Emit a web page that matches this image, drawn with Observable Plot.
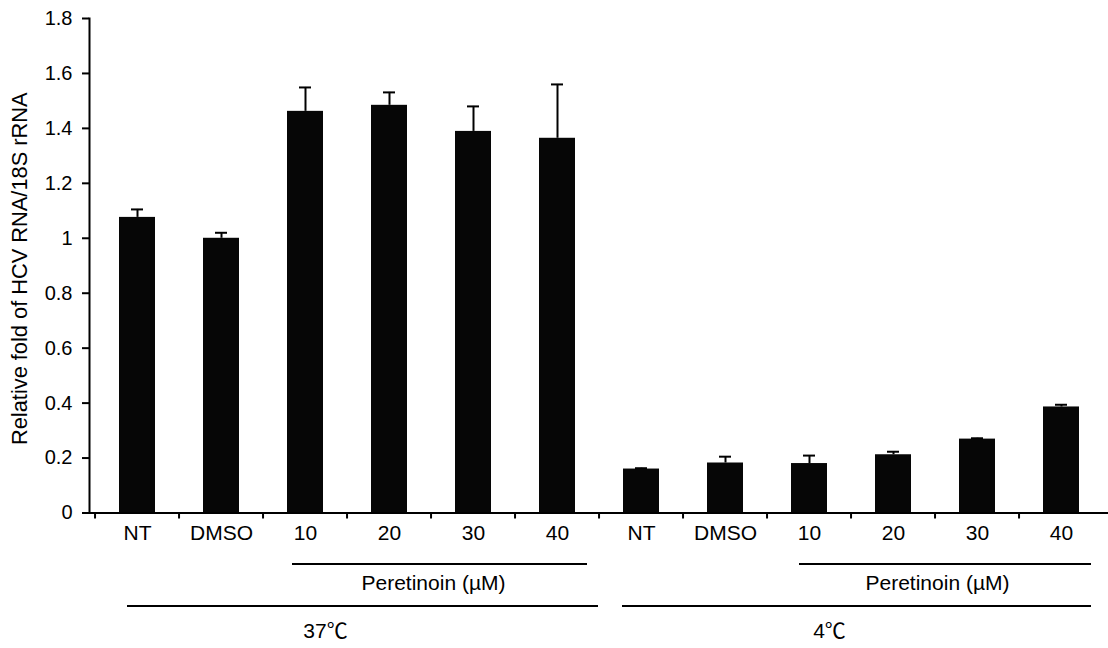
<!DOCTYPE html>
<html><head><meta charset="utf-8">
<script src="https://cdn.jsdelivr.net/npm/d3@7"></script>
<script src="https://cdn.jsdelivr.net/npm/@observablehq/plot@0.6"></script>
<style>body{margin:0;background:#fff}#chart svg{display:block}</style>
</head><body><div id="chart"></div>
<script>
// ---- data ----
const groups = ["37℃", "4℃"];
const treatments = ["NT", "DMSO", "10", "20", "30", "40"];
const values37 = [1.076, 1.0, 1.462, 1.484, 1.389, 1.364];
const errors37 = [0.029, 0.02, 0.087, 0.047, 0.091, 0.196];
const values4 = [0.16, 0.182, 0.18, 0.212, 0.269, 0.386];
const errors4 = [0.003, 0.023, 0.029, 0.011, 0.003, 0.008];
const yTicks = [0, 0.2, 0.4, 0.6, 0.8, 1, 1.2, 1.4, 1.6, 1.8];
const yLabel = "Relative fold of HCV RNA/18S rRNA";
const doseLabel = "Peretinoin (µM)";

const groupValues = [values37, values4];
const groupErrors = [errors37, errors4];
const rows = [];
groups.forEach((g, gi) => treatments.forEach((t, ti) => rows.push({
  key: g + "|" + t, group: g, treatment: t,
  value: groupValues[gi][ti], error: groupErrors[gi][ti]
})));
const keys = rows.map(d => d.key);
const k = (g, t) => g + "|" + t;

const FONT = '"Liberation Sans", Arial, "Noto Sans CJK JP", sans-serif';
const step = (1108 - 89) / keys.length;

const marks = [
  Plot.barY(rows, {x: "key", y: "value", fill: "#060606"}),
  Plot.ruleX(rows, {x: "key", y1: "value", y2: d => d.value + d.error, stroke: "#000", strokeWidth: 2}),
  Plot.tickY(rows, {x: "key", y: d => d.value + d.error, stroke: "#000", strokeWidth: 2, inset: 12}),
  Plot.frame({anchor: "left", stroke: "#000", strokeWidth: 2}),
  Plot.ruleY([0], {stroke: "#000", strokeWidth: 2}),
  Plot.axisY({ticks: yTicks, tickSize: 7, tickPadding: 10, tickFormat: d => String(d), fontSize: 20, label: null, stroke: "#000", strokeWidth: 2}),
  // boundary ticks below x axis
  Plot.ruleX(keys, {x: d => d, y1: 0, y2: 0, insetBottom: -6, dx: -step / 2, stroke: "#000", strokeWidth: 2}),
  Plot.axisX({tickSize: 0, tickPadding: 12, tickFormat: d => d.split("|")[1], fontSize: 21, label: null}),
  Plot.text([yLabel], {frameAnchor: "left", textAnchor: "middle", lineAnchor: "middle", rotate: -90, dx: -69, dy: 3, fontSize: 21.8, fill: "#000"}),
  // brackets
  Plot.ruleY([0], {x1: [k(groups[0], "10")], x2: [k(groups[0], "40")], insetLeft: 5, insetRight: -12, dy: 51, stroke: "#000", strokeWidth: 2}),
  Plot.ruleY([0], {x1: [k(groups[1], "10")], x2: [k(groups[1], "40")], insetLeft: 8, insetRight: -12, dy: 51, stroke: "#000", strokeWidth: 2}),
  Plot.ruleY([0], {x1: [k(groups[0], "NT")], x2: [k(groups[0], "40")], insetLeft: 8, insetRight: -23, dy: 93, stroke: "#000", strokeWidth: 2}),
  Plot.ruleY([0], {x1: [k(groups[1], "NT")], x2: [k(groups[1], "40")], insetLeft: -1, insetRight: -12, dy: 93, stroke: "#000", strokeWidth: 2}),
  Plot.text(groups, {x: g => k(g, "30"), y: () => 0, text: () => doseLabel, dx: -40, dy: 70, fontSize: 21, fill: "#000"}),
  Plot.text(groups, {x: g => k(g, "10"), y: () => 0, text: g => g, dx: 20, dy: 118, fontSize: 21, fill: "#000"})
];

const chart = Plot.plot({
  width: 1108, height: 648,
  marginLeft: 89, marginRight: 0, marginTop: 18, marginBottom: 135.5,
  style: {fontFamily: FONT, fontSize: "20px", color: "#000", background: "#fff", overflow: "visible"},
  x: {domain: keys, paddingInner: 0.576, paddingOuter: 0.288, axis: null},
  y: {domain: [0, 1.8], axis: null},
  marks
});
document.getElementById("chart").append(chart);
</script>
</body></html>
